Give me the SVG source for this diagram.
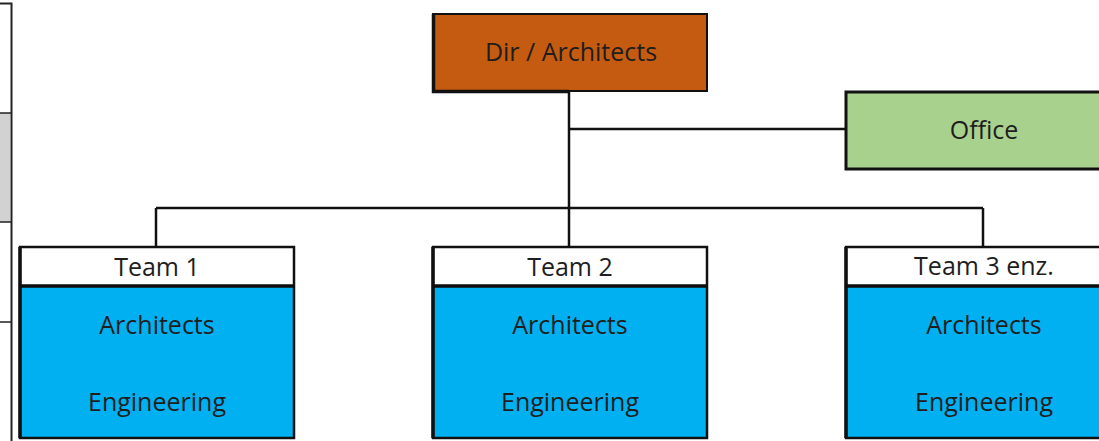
<svg xmlns="http://www.w3.org/2000/svg" width="1099" height="441" viewBox="0 0 1099 441">
  <style>
    .lbl { font-family: "Open Sans", "Noto Sans", sans-serif; font-size: 25px; fill: #1e1e1e; text-anchor: middle; }
    .edge { stroke: #111; stroke-width: 2.5; fill: none; }
    .frame { stroke: #111; stroke-width: 2.5; }
    .head { fill: #ffffff; }
    .body { fill: #00b0f0; }
    .divider { stroke: #0d0d0d; stroke-width: 3.5; }
  </style>

  <rect width="1099" height="441" fill="#ffffff"/>

  <!-- table edge on the left -->
  <g id="side-table">
    <rect x="0" y="113" width="10" height="109" fill="#d2d2d2"/>
    <path d="M0 3.5 H11.5 V441" stroke="#222" stroke-width="2" fill="none"/>
    <path d="M0 113 H11 M0 222 H11 M0 322 H11" stroke="#222" stroke-width="1.5"/>
  </g>

  <!-- connectors -->
  <g id="connectors">
    <path class="edge" d="M569 91 V246"/>
    <path class="edge" d="M569 129 H845"/>
    <path class="edge" d="M156 208 H983"/>
    <path class="edge" d="M156 208 V246"/>
    <path class="edge" d="M983 208 V247"/>
  </g>

  <!-- director -->
  <g id="dir">
    <rect x="433" y="14" width="274" height="77" fill="#c55a11" stroke="#111" stroke-width="2"/>
    <path d="M433.5 14 V91.5 H569" stroke="#111" stroke-width="3.5" fill="none"/>
    <text class="lbl" x="571" y="61">Dir / Architects</text>
  </g>

  <!-- office -->
  <g id="office">
    <rect x="846" y="92" width="270" height="77" fill="#a9d18e" stroke="#111" stroke-width="3"/>
    <text class="lbl" x="984" y="139">Office</text>
  </g>

  <!-- team 1 -->
  <g id="team1">
    <rect class="head" x="20" y="247" width="274" height="39"/>
    <rect class="body" x="20" y="286" width="274" height="152"/>
    <rect class="frame" x="20" y="247" width="274" height="191" fill="none"/>
    <path d="M20 247 V438" stroke="#111" stroke-width="3.5"/>
    <line class="divider" x1="20" y1="286" x2="294" y2="286"/>
    <text class="lbl" x="157" y="276">Team 1</text>
    <text class="lbl" x="157" y="334">Architects</text>
    <text class="lbl" x="157" y="411">Engineering</text>
  </g>

  <!-- team 2 -->
  <g id="team2">
    <rect class="head" x="433" y="247" width="274" height="39"/>
    <rect class="body" x="433" y="286" width="274" height="152"/>
    <rect class="frame" x="433" y="247" width="274" height="191" fill="none"/>
    <path d="M433 247 V438" stroke="#111" stroke-width="3.5"/>
    <line class="divider" x1="433" y1="286" x2="707" y2="286"/>
    <text class="lbl" x="570" y="276">Team 2</text>
    <text class="lbl" x="570" y="334">Architects</text>
    <text class="lbl" x="570" y="411">Engineering</text>
  </g>

  <!-- team 3 -->
  <g id="team3">
    <rect class="head" x="846" y="247" width="274" height="39"/>
    <rect class="body" x="846" y="286" width="274" height="152"/>
    <rect class="frame" x="846" y="247" width="274" height="191" fill="none"/>
    <path d="M846 247 V438" stroke="#111" stroke-width="3.5"/>
    <line class="divider" x1="846" y1="286" x2="1120" y2="286"/>
    <text class="lbl" x="984" y="275">Team 3 enz.</text>
    <text class="lbl" x="984" y="334">Architects</text>
    <text class="lbl" x="984" y="411">Engineering</text>
  </g>
</svg>
